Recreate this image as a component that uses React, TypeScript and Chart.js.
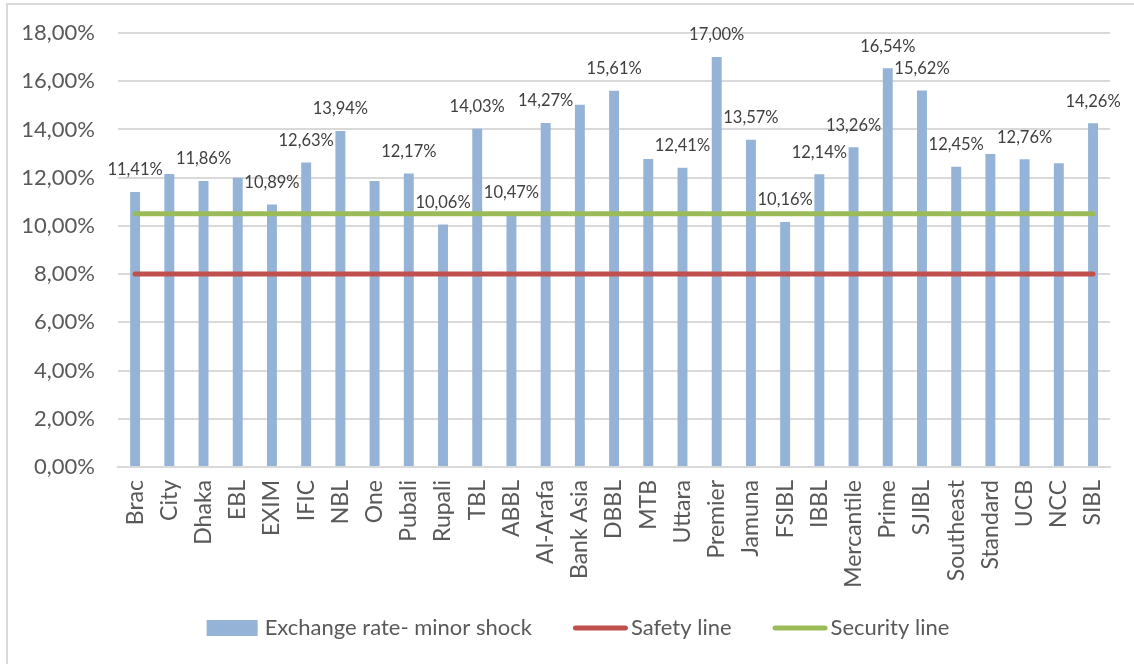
import React, { useEffect, useRef } from "react";
import { Chart, registerables } from "chart.js";

Chart.register(...registerables);

const categories = [
  "Brac", "City", "Dhaka", "EBL", "EXIM", "IFIC", "NBL", "One", "Pubali", "Rupali",
  "TBL", "ABBL", "Al-Arafa", "Bank Asia", "DBBL", "MTB", "Uttara", "Premier", "Jamuna", "FSIBL",
  "IBBL", "Mercantile", "Prime", "SJIBL", "Southeast", "Standard", "UCB", "NCC", "SIBL",
];

const exchangeRateMinorShock = [
  11.41, 12.15, 11.86, 12.0, 10.89, 12.63, 13.94, 11.86, 12.17, 10.06,
  14.03, 10.47, 14.27, 15.02, 15.61, 12.77, 12.41, 17.0, 13.57, 10.16,
  12.14, 13.26, 16.54, 15.62, 12.45, 12.98, 12.76, 12.6, 14.26,
];

const labelShown = [
  true, false, true, false, true, true, true, false, true, true,
  true, true, true, false, true, false, true, true, true, true,
  true, true, true, true, true, false, true, false, true,
];

const safetyLine = [
  8, 8, 8, 8, 8, 8, 8, 8, 8, 8, 8, 8, 8, 8, 8, 8, 8, 8, 8, 8, 8, 8, 8, 8, 8, 8, 8, 8, 8,
];

const securityLine = [
  10.5, 10.5, 10.5, 10.5, 10.5, 10.5, 10.5, 10.5, 10.5, 10.5, 10.5, 10.5, 10.5, 10.5, 10.5,
  10.5, 10.5, 10.5, 10.5, 10.5, 10.5, 10.5, 10.5, 10.5, 10.5, 10.5, 10.5, 10.5, 10.5,
];

const yTicks = { min: 0, max: 18, step: 2 };

const seriesNames = ["Exchange rate- minor shock", "Safety line", "Security line"];
const colors = ["#95B3D7", "#C0504D", "#9BBB59"];

const FONT = "Lato";
const TEXT = "#595959";
const fmt = (v: number) => v.toFixed(2).replace(".", ",") + "%";

const borderPlugin = {
  id: "outerBorder",
  beforeDraw(chart: any) {
    const ctx = chart.ctx;
    ctx.save();
    ctx.fillStyle = "#FFFFFF";
    ctx.fillRect(0, 0, chart.width, chart.height);
    ctx.strokeStyle = "#D9D9D9";
    ctx.lineWidth = 2;
    ctx.beginPath();
    ctx.moveTo(7, chart.height);
    ctx.lineTo(7, 4);
    ctx.lineTo(chart.width, 4);
    ctx.stroke();
    ctx.restore();
  },
};

const barLabelPlugin = {
  id: "barLabels",
  afterDatasetsDraw(chart: any) {
    const meta = chart.getDatasetMeta(0);
    const ctx = chart.ctx;
    ctx.save();
    ctx.font = `16.5px ${FONT}`;
    ctx.fillStyle = "#404040";
    ctx.textAlign = "center";
    ctx.textBaseline = "middle";
    meta.data.forEach((el: any, i: number) => {
      if (!labelShown[i]) return;
      ctx.fillText(fmt(exchangeRateMinorShock[i]), el.x, el.y - 22);
    });
    ctx.restore();
  },
};

// Legend drawn below the axis labels, built from the datasets
const legendPlugin = {
  id: "customLegend",
  afterDraw(chart: any) {
    const ctx = chart.ctx;
    const ds = chart.data.datasets;
    ctx.save();
    ctx.font = `22px ${FONT}`;
    ctx.textBaseline = "middle";
    ctx.textAlign = "left";
    const markerW = 51;
    const itemGap = 41;
    const items = ds.map((d: any) => {
      const isBar = d.type === "bar";
      const gap = isBar ? 7 : 3;
      const extra = isBar ? 0 : 2;
      const tw = ctx.measureText(d.label).width;
      return { d, isBar, gap, extra, tw, w: markerW + extra * 2 + gap + tw };
    });
    const total = items.reduce((s: number, it: any) => s + it.w, 0) + itemGap * (items.length - 1);
    let x = chart.width / 2 + 11 - total / 2;
    const y = chart.chartArea.bottom + 161;
    items.forEach((it: any) => {
      if (it.isBar) {
        ctx.fillStyle = it.d.backgroundColor;
        ctx.fillRect(x, y - 8, markerW, 16);
      } else {
        ctx.strokeStyle = it.d.borderColor;
        ctx.lineWidth = it.d.borderWidth;
        ctx.lineCap = "round";
        ctx.beginPath();
        ctx.moveTo(x + 2.5, y);
        ctx.lineTo(x + markerW + it.extra * 2 - 2.5, y);
        ctx.stroke();
      }
      const tx = x + markerW + it.extra * 2 + it.gap;
      ctx.fillStyle = TEXT;
      ctx.fillText(it.d.label, tx, y);
      x += it.w + itemGap;
    });
    ctx.restore();
  },
};

export default function App() {
  const ref = useRef<HTMLCanvasElement | null>(null);

  useEffect(() => {
    if (!ref.current) return;
    const chart = new Chart(ref.current, {
      type: "bar",
      data: {
        labels: categories,
        datasets: [
          {
            type: "bar",
            label: seriesNames[0],
            data: exchangeRateMinorShock,
            backgroundColor: colors[0],
            borderWidth: 0,
            barPercentage: 0.29,
            categoryPercentage: 1,
            order: 1,
          },
          {
            type: "line",
            label: seriesNames[1],
            data: safetyLine,
            borderColor: colors[1],
            backgroundColor: colors[1],
            borderWidth: 5,
            borderCapStyle: "round",
            pointRadius: 0,
            pointHoverRadius: 0,
            fill: false,
            order: 0,
          },
          {
            type: "line",
            label: seriesNames[2],
            data: securityLine,
            borderColor: colors[2],
            backgroundColor: colors[2],
            borderWidth: 5,
            borderCapStyle: "round",
            pointRadius: 0,
            pointHoverRadius: 0,
            fill: false,
            order: 0,
          },
        ] as any,
      },
      options: {
        animation: false,
        responsive: false,
        maintainAspectRatio: false,
        layout: { padding: { left: 10, right: 21, top: 33, bottom: 71 } },
        plugins: {
          tooltip: { enabled: false },
          legend: { display: false },
        },
        scales: {
          x: {
            offset: true,
            grid: { display: false, drawTicks: false },
            border: { display: true, color: "#D9D9D9", width: 2 },
            ticks: {
              autoSkip: false,
              maxRotation: 90,
              minRotation: 90,
              padding: 13,
              color: TEXT,
              font: { family: FONT, size: 23 },
            },
            afterFit: (s: any) => {
              s.height = 126;
            },
          },
          y: {
            min: yTicks.min,
            max: yTicks.max,
            grid: { color: "#D9D9D9", lineWidth: 2, drawTicks: false },
            border: { display: false },
            ticks: {
              stepSize: yTicks.step,
              padding: 23,
              color: TEXT,
              font: { family: FONT, size: 22 },
              callback: (v: any) => fmt(Number(v)),
            },
            afterFit: (s: any) => {
              s.width = 108;
              s.paddingTop = 0;
              s.paddingBottom = 0;
            },
          },
        },
      },
      plugins: [borderPlugin, barLabelPlugin, legendPlugin],
    });
    return () => chart.destroy();
  }, []);

  return (
    <div style={{ position: "absolute", left: 0, top: 0, width: 1134, height: 664 }}>
      <canvas ref={ref} width={1134} height={664} style={{ display: "block" }} />
    </div>
  );
}
